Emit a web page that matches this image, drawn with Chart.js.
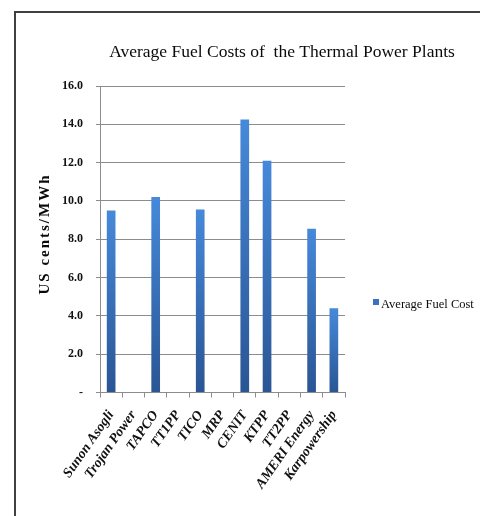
<!DOCTYPE html>
<html>
<head>
<meta charset="utf-8">
<script src="https://cdn.jsdelivr.net/npm/chart.js@4.4.1/dist/chart.umd.min.js"></script>
<style>
	html, body { margin: 0; padding: 0; background: #fff; overflow: hidden; }
	#wrap { position: relative; width: 480px; height: 516px; overflow: hidden; }
	#frame {
		position: absolute; left: 14px; top: 11px; width: 480px; height: 520px;
		border-top: 2px solid #404040; border-left: 2px solid #404040;
	}
	#fuel-chart { position: absolute; left: 0; top: 0; }
</style>
</head>
<body>
<div id="wrap">
	<div id="frame"></div>
	<canvas id="fuel-chart" width="480" height="516"></canvas>
</div>
<script>
// Plants with no reported cost stay as empty slots on the axis
var plants = ["Sunon Asogli", "Trojan Power", "TAPCO", "TT1PP", "TICO", "MRP", "CENIT", "KTPP", "TT2PP", "AMERI Energy", "Karpowership"];
var fuelCost = [9.5, null, 10.2, null, 9.55, null, 14.25, 12.1, null, 8.55, 4.4];
var yTicks = [0, 2, 4, 6, 8, 10, 12, 14, 16];

var chartTitle = "Average Fuel Costs of  the Thermal Power Plants";
var yTitle = "US cents/MWh";
var seriesName = "Average Fuel Cost";

var SERIF = "'Liberation Serif', 'Times New Roman', serif";

// light-to-dark vertical fill for each bar
function barFill(ctx) {
	var chart = ctx.chart;
	if (!chart.chartArea || !ctx.parsed || ctx.parsed.y == null) return "#3a72bf";
	var yScale = chart.scales.y;
	var top = yScale.getPixelForValue(ctx.parsed.y);
	var base = yScale.getPixelForValue(0);
	var g = chart.ctx.createLinearGradient(0, top, 0, base);
	g.addColorStop(0, "#4689da");
	g.addColorStop(1, "#2a5594");
	return g;
}

// title, rotated axis title and the side legend
var decorations = {
	id: "decorations",
	afterDraw: function (chart) {
		var c = chart.ctx;
		c.save();
		c.fillStyle = "#0a0a0a";

		c.font = "17.5px " + SERIF;
		c.textAlign = "center";
		c.textBaseline = "alphabetic";
		c.fillText(chartTitle, 282, 57);

		c.save();
		c.translate(49, 234);
		c.rotate(-Math.PI / 2);
		c.font = "bold 15px " + SERIF;
		c.letterSpacing = "2px";
		c.textAlign = "center";
		c.fillText(yTitle, 0, 0);
		c.restore();

		c.fillStyle = "#3a72bf";
		c.fillRect(373, 299, 6, 6);
		c.fillStyle = "#0a0a0a";
		c.font = "12.5px " + SERIF;
		c.textAlign = "left";
		c.fillText(seriesName, 381, 308);
		c.restore();
	},
};

new Chart(document.getElementById("fuel-chart"), {
	type: "bar",
	data: {
		labels: plants,
		datasets: [
			{
				label: seriesName,
				data: fuelCost,
				backgroundColor: barFill,
				categoryPercentage: 1,
				barPercentage: 0.39,
			},
		],
	},
	options: {
		responsive: false,
		animation: false,
		devicePixelRatio: 1,
		layout: { padding: { left: 49, right: 135, top: 86, bottom: 14 } },
		plugins: {
			legend: { display: false },
			title: { display: false },
			tooltip: { enabled: false },
		},
		scales: {
			x: {
				grid: { drawOnChartArea: false, color: "#8c8c8c", tickLength: 5, offset: true },
				border: { color: "#8c8c8c" },
				ticks: {
					autoSkip: false,
					minRotation: 55,
					maxRotation: 55,
					padding: 10,
					color: "#111",
					font: { family: SERIF, size: 14, weight: "bold", style: "italic" },
				},
			},
			y: {
				min: 0,
				max: 16,
				afterBuildTicks: function (axis) {
					axis.ticks = yTicks.map(function (v) { return { value: v }; });
				},
				grid: { color: "#8c8c8c", tickLength: 4 },
				border: { color: "#8c8c8c" },
				ticks: {
					padding: 13,
					color: "#111",
					font: { family: SERIF, size: 12, weight: "bold" },
					callback: function (v) { return v === 0 ? "-" : v.toFixed(1); },
				},
			},
		},
	},
	plugins: [decorations],
});
</script>
</body>
</html>
